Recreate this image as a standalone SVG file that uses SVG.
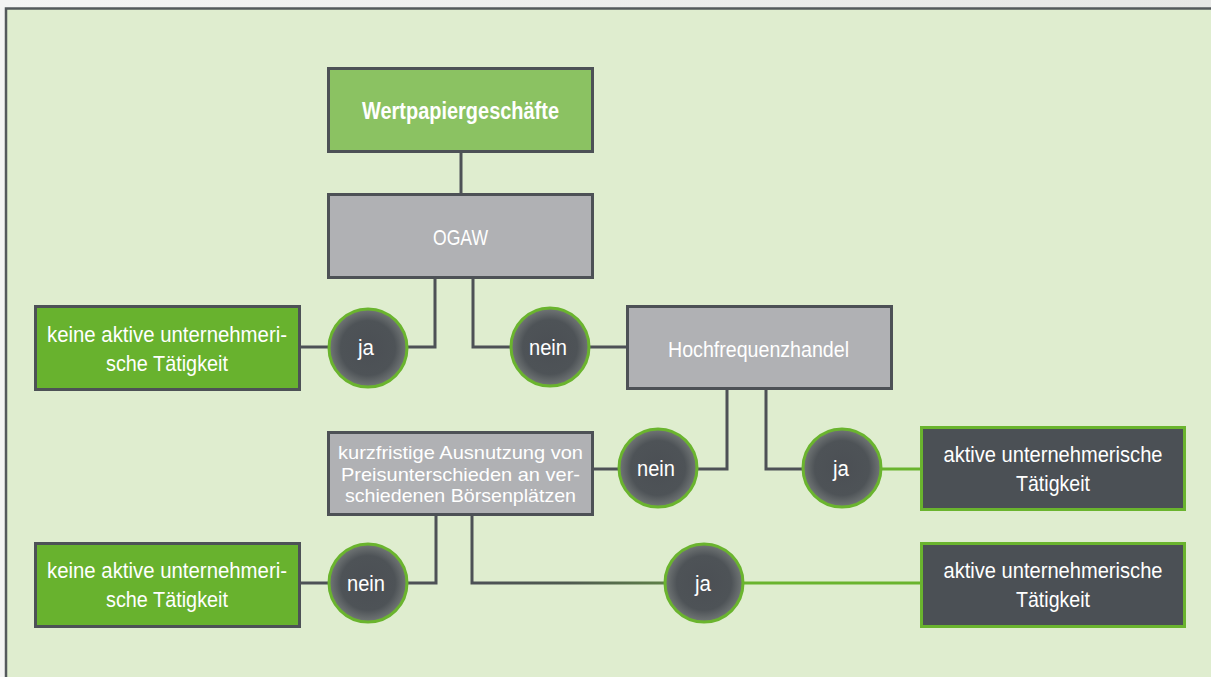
<svg xmlns="http://www.w3.org/2000/svg" width="1211" height="677" viewBox="0 0 1211 677">
<style>
text{font-family:"Liberation Sans",Arial,sans-serif;fill:#ffffff;text-anchor:middle}
.t{font-size:22.5px}
.s{font-size:18.5px}
.b{font-size:23px;font-weight:bold}
.c{fill:url(#cg);stroke:#6ab42e;stroke-width:3}
.grey{fill:#b0b1b4;stroke:#4d5156;stroke-width:3}
.lg{fill:#8bc262;stroke:#4d5156;stroke-width:3}
.bg{fill:#68b22e;stroke:#4d5156;stroke-width:3}
.dk{fill:#4b5055;stroke:#6ab42e;stroke-width:3}
.ln{fill:none;stroke:#4d5156;stroke-width:3}
.gn{fill:none;stroke:#6ab42e;stroke-width:3}
</style>
<defs>
<radialGradient id="cg" cx="50%" cy="50%" r="50%">
<stop offset="0" stop-color="#4b4f54"/>
<stop offset="0.7" stop-color="#4e5357"/>
<stop offset="1" stop-color="#727777"/>
</radialGradient>
<linearGradient id="lg2" x1="473" y1="0" x2="664" y2="0" gradientUnits="userSpaceOnUse">
<stop offset="0" stop-color="#4d5156"/>
<stop offset="0.5" stop-color="#4f5a50"/>
<stop offset="1" stop-color="#5e8048"/>
</linearGradient>
<linearGradient id="top" x1="0" y1="0" x2="1" y2="0">
<stop offset="0" stop-color="#f4f4f4"/>
<stop offset="1" stop-color="#e6e7e5"/>
</linearGradient>
</defs>
<rect x="0" y="0" width="1211" height="677" fill="url(#top)"/>
<rect x="6" y="8.5" width="1220" height="680" fill="#dfedcf" stroke="#54595c" stroke-width="2.5"/>

<g id="connectors">
<path class="ln" d="M461 152V194"/>
<path class="ln" d="M435 278V347H408"/>
<path class="ln" d="M473 278V347H510"/>
<path class="ln" d="M590 347H627"/>
<path class="ln" d="M328 347H300"/>
<path class="ln" d="M727 389V469H698"/>
<path class="ln" d="M618 469H593"/>
<path class="ln" d="M766 389V469H802"/>
<path class="gn" d="M882 469H921"/>
<path class="ln" d="M436 515V583H408"/>
<path class="ln" d="M328 583H300"/>
<path fill="none" stroke="url(#lg2)" stroke-width="3" d="M472 515V583H664"/>
<path class="gn" d="M744 583H920"/>
</g>

<g id="wertpapier">
<rect class="lg" x="328.5" y="68.5" width="264" height="83"/>
<text class="b" x="460.5" y="119" textLength="197" lengthAdjust="spacingAndGlyphs">Wertpapiergeschäfte</text>
</g>
<g id="ogaw">
<rect class="grey" x="328.5" y="194.5" width="264" height="83"/>
<text class="t" x="460.5" y="245" textLength="55" lengthAdjust="spacingAndGlyphs">OGAW</text>
</g>
<g id="keine1">
<rect class="bg" x="35.5" y="306.5" width="264" height="83"/>
<text class="t" x="167" y="342" textLength="240" lengthAdjust="spacingAndGlyphs">keine aktive unternehmeri-</text>
<text class="t" x="167" y="371" textLength="122" lengthAdjust="spacingAndGlyphs">sche Tätigkeit</text>
</g>
<g id="ja1">
<circle class="c" cx="368" cy="348" r="39"/>
<text class="t" x="366" y="355" textLength="16" lengthAdjust="spacingAndGlyphs">ja</text>
</g>
<g id="nein1">
<circle class="c" cx="550" cy="347" r="39"/>
<text class="t" x="548" y="355" textLength="38" lengthAdjust="spacingAndGlyphs">nein</text>
</g>
<g id="hochfrequenz">
<rect class="grey" x="627.5" y="306.5" width="264" height="82"/>
<text class="t" x="758.5" y="357" textLength="181" lengthAdjust="spacingAndGlyphs">Hochfrequenzhandel</text>
</g>
<g id="kurzfristig">
<rect class="grey" x="328.5" y="432.5" width="264" height="82"/>
<text class="s" x="460.5" y="459" textLength="245" lengthAdjust="spacingAndGlyphs">kurzfristige Ausnutzung von</text>
<text class="s" x="460.5" y="480.5" textLength="239" lengthAdjust="spacingAndGlyphs">Preisunterschieden an ver-</text>
<text class="s" x="460.5" y="502" textLength="231" lengthAdjust="spacingAndGlyphs">schiedenen Börsenplätzen</text>
</g>
<g id="nein2">
<circle class="c" cx="658" cy="468" r="39"/>
<text class="t" x="656" y="476" textLength="38" lengthAdjust="spacingAndGlyphs">nein</text>
</g>
<g id="ja2">
<circle class="c" cx="842" cy="468" r="39"/>
<text class="t" x="841" y="476" textLength="16" lengthAdjust="spacingAndGlyphs">ja</text>
</g>
<g id="aktive1">
<rect class="dk" x="921.5" y="427.5" width="263" height="82"/>
<text class="t" x="1053" y="462" textLength="219" lengthAdjust="spacingAndGlyphs">aktive unternehmerische</text>
<text class="t" x="1053" y="491" textLength="74" lengthAdjust="spacingAndGlyphs">Tätigkeit</text>
</g>
<g id="keine2">
<rect class="bg" x="35.5" y="543.5" width="264" height="83"/>
<text class="t" x="167" y="578" textLength="240" lengthAdjust="spacingAndGlyphs">keine aktive unternehmeri-</text>
<text class="t" x="167" y="607" textLength="122" lengthAdjust="spacingAndGlyphs">sche Tätigkeit</text>
</g>
<g id="nein3">
<circle class="c" cx="368" cy="583" r="39"/>
<text class="t" x="366" y="591" textLength="38" lengthAdjust="spacingAndGlyphs">nein</text>
</g>
<g id="ja3">
<circle class="c" cx="704" cy="583" r="39"/>
<text class="t" x="703" y="591" textLength="16" lengthAdjust="spacingAndGlyphs">ja</text>
</g>
<g id="aktive2">
<rect class="dk" x="921.5" y="543.5" width="263" height="83"/>
<text class="t" x="1053" y="578" textLength="219" lengthAdjust="spacingAndGlyphs">aktive unternehmerische</text>
<text class="t" x="1053" y="607" textLength="74" lengthAdjust="spacingAndGlyphs">Tätigkeit</text>
</g>
</svg>
